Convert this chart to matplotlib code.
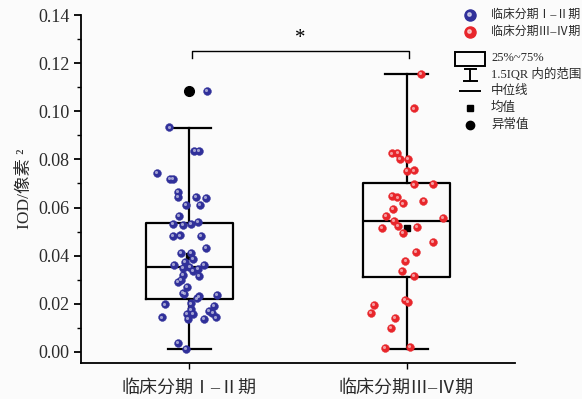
import numpy as np
import matplotlib
matplotlib.use("Agg")
import matplotlib.pyplot as plt
from matplotlib.patches import Rectangle
from matplotlib.lines import Line2D
from matplotlib.transforms import offset_copy

plt.rcParams['font.family'] = ['Liberation Serif', 'Noto Sans CJK SC', 'DejaVu Sans']

# groups and labels
groups = ['临床分期Ⅰ–Ⅱ期', '临床分期Ⅲ–Ⅳ期']

# IOD values, with the horizontal jitter of each dot
vals1 = [0.1084, 0.0933, 0.0834, 0.0834, 0.0742, 0.0718, 0.0718, 0.0665, 0.0645, 0.0645,
         0.0639, 0.0611, 0.0611, 0.0564, 0.0531, 0.0528, 0.0531, 0.0539, 0.0481, 0.0484,
         0.0481, 0.0430, 0.0412, 0.0412, 0.0387, 0.0372, 0.0360, 0.0362, 0.0349, 0.0353,
         0.0338, 0.0343, 0.0315, 0.0319, 0.0298, 0.0290, 0.0270, 0.0243, 0.0240, 0.0237,
         0.0230, 0.0222, 0.0197, 0.0201, 0.0189, 0.0176, 0.0168, 0.0162, 0.0157, 0.0157,
         0.0143, 0.0137, 0.0143, 0.0135, 0.0037, 0.0012]
jit1 = [0.082, -0.092, 0.023, 0.042, -0.148, -0.091, -0.077, -0.052, -0.055, 0.028,
        0.075, -0.018, 0.049, -0.049, -0.077, -0.029, 0.009, 0.038, -0.077, -0.043,
        0.055, 0.075, -0.038, 0.009, 0.017, -0.020, -0.071, 0.066, -0.028, 0.0,
        0.015, 0.038, 0.042, -0.031, -0.038, -0.051, -0.011, -0.031, -0.023, 0.126,
        0.042, 0.036, -0.112, 0.008, 0.114, 0.006, 0.088, 0.106, -0.012, 0.017,
        -0.128, 0.065, 0.123, -0.008, -0.052, -0.018]

vals2 = [0.1156, 0.1012, 0.0825, 0.0826, 0.0803, 0.0803, 0.0751, 0.0754, 0.0696, 0.0699,
         0.0647, 0.0642, 0.0617, 0.0628, 0.0593, 0.0564, 0.0546, 0.0556, 0.0514, 0.0524,
         0.0518, 0.0495, 0.0456, 0.0415, 0.0378, 0.0337, 0.0316, 0.0215, 0.0208, 0.0194,
         0.0162, 0.0139, 0.0100, 0.0015, 0.0021]
jit2 = [0.065, 0.035, -0.069, -0.042, -0.030, 0.005, 0.003, 0.035, 0.035, 0.123,
        -0.066, -0.042, -0.018, 0.078, -0.062, -0.096, -0.060, 0.169, -0.113, -0.040,
        0.046, -0.018, 0.121, 0.043, -0.005, -0.023, 0.035, -0.009, 0.005, -0.151,
        -0.162, -0.054, -0.071, -0.100, 0.015]

# box statistics as drawn
q1 = [0.0218, 0.0313]
med = [0.0352, 0.0545]
q3 = [0.0536, 0.0700]
whislo = [0.0010, 0.0011]
whishi = [0.0931, 0.1155]
means = [0.0397, 0.0514]
outliers = [[0.1083], []]

blue = '#30309a'
red = '#e8262b'

fig = plt.figure(figsize=(5.82, 3.99), dpi=100, facecolor='#fbfbfb')
ax = fig.add_axes([0.139, 0.090, 0.746, 0.872])
ax.set_facecolor('#fbfbfb')

stats = []
for i in range(2):
    stats.append(dict(q1=q1[i], med=med[i], q3=q3[i], whislo=whislo[i],
                      whishi=whishi[i], mean=means[i], fliers=outliers[i]))

lw = 1.6
ax.bxp(stats, positions=[1, 2], widths=0.4, capwidths=0.2, showmeans=True,
       boxprops=dict(color='black', linewidth=lw),
       whiskerprops=dict(color='black', linewidth=lw),
       capprops=dict(color='black', linewidth=lw),
       medianprops=dict(color='black', linewidth=lw),
       meanprops=dict(marker='s', markerfacecolor='black', markeredgecolor='black', markersize=5),
       flierprops=dict(marker='o', markerfacecolor='black', markeredgecolor='black', markersize=7),
       zorder=2)


def spheres(x, y, c):
    ax.scatter(x, y, s=32, color=c, edgecolors=c, linewidths=0.3, zorder=3)
    tr = offset_copy(ax.transData, fig=fig, x=-0.9, y=0.9, units='dots')
    ax.scatter(x, y, s=5, color='white', alpha=0.55, linewidths=0, zorder=4, transform=tr)


spheres(1 + np.array(jit1), vals1, blue)
spheres(2 + np.array(jit2), vals2, red)

# significance bracket
ax.plot([1.01, 1.01, 2.01, 2.01], [0.1222, 0.1250, 0.1250, 0.1222], color='black', lw=1.0)
ax.text(1.51, 0.1265, '*', ha='center', va='bottom', fontsize=15)

tc = '#2a2a2a'
ax.set_xlim(0.5, 2.5)
ax.set_ylim(-0.0047, 0.14)
ax.set_xticks([1, 2])
ax.set_xticklabels(groups, fontsize=13, color=tc)
ax.set_yticks(np.arange(0, 0.141, 0.02))
ax.set_yticklabels(['%.2f' % v for v in np.arange(0, 0.141, 0.02)], fontsize=13, color=tc)
ax.set_yticks(np.arange(0.01, 0.14, 0.02), minor=True)
ax.tick_params(axis='y', which='major', length=5, width=1.3, direction='out', pad=3)
ax.tick_params(axis='y', which='minor', length=3, width=1.0, direction='out')
ax.tick_params(axis='x', length=4, width=1.0, direction='out', pad=8)
for s in ['top', 'right']:
    ax.spines[s].set_visible(False)
for s in ['left', 'bottom']:
    ax.spines[s].set_linewidth(1.3)
ax.set_ylabel('IOD/像素 ²', fontsize=12.5, color=tc, labelpad=4)

# legend drawn by hand in figure pixels
W, H = 582.0, 399.0


def fx(px):
    return px / W


def fy(py):
    return 1 - py / H


tfs = 8.6
for py, c, lab in [(15, blue, groups[0]), (32, red, groups[1])]:
    fig.add_artist(Line2D([fx(470)], [fy(py)], marker='o', markersize=8, color=c, linestyle=''))
    fig.add_artist(Line2D([fx(468.8)], [fy(py - 1.3)], marker='o', markersize=2.5,
                          color='white', alpha=0.6, linestyle=''))
    fig.text(fx(491), fy(py), lab, fontsize=tfs, va='center', ha='left', color=tc)

fig.add_artist(Rectangle((fx(455), fy(66)), fx(485) - fx(455), fy(52) - fy(66),
                         fill=False, edgecolor='black', linewidth=1.4))
fig.text(fx(491), fy(58), '25%~75%', fontsize=tfs + 0.4, va='center', ha='left', color=tc)

fig.add_artist(Line2D([fx(470), fx(470)], [fy(69), fy(81)], color='black', lw=1.4))
fig.add_artist(Line2D([fx(465), fx(476)], [fy(69), fy(69)], color='black', lw=1.4))
fig.add_artist(Line2D([fx(464), fx(477)], [fy(81), fy(81)], color='black', lw=1.4))
fig.text(fx(491), fy(75), '1.5IQR 内的范围', fontsize=tfs + 0.4, va='center', ha='left', color=tc)

fig.add_artist(Line2D([fx(460), fx(480)], [fy(91), fy(91)], color='black', lw=1.4))
fig.text(fx(491), fy(91), '中位线', fontsize=tfs + 0.4, va='center', ha='left', color=tc)

fig.add_artist(Line2D([fx(470)], [fy(108)], marker='s', markersize=5, color='black', linestyle=''))
fig.text(fx(491), fy(108), '均值', fontsize=tfs + 0.4, va='center', ha='left', color=tc)

fig.add_artist(Line2D([fx(470)], [fy(125)], marker='o', markersize=6, color='black', linestyle=''))
fig.text(fx(491), fy(125), '异常值', fontsize=tfs + 0.4, va='center', ha='left', color=tc)

fig.savefig('out.png', dpi=100, facecolor=fig.get_facecolor())
